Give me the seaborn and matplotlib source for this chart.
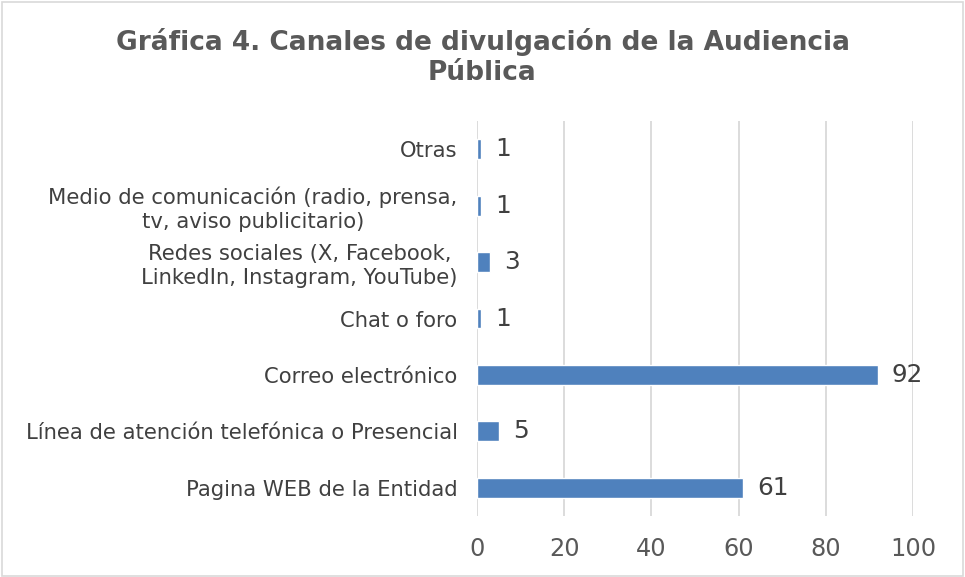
import matplotlib
matplotlib.use("Agg")
import matplotlib.pyplot as plt
import seaborn as sns
import pandas as pd

categories = [
    "Otras",
    "Medio de comunicación (radio, prensa,\ntv, aviso publicitario)",
    "Redes sociales (X, Facebook,\nLinkedIn, Instagram, YouTube)",
    "Chat o foro",
    "Correo electrónico",
    "Línea de atención telefónica o Presencial",
    "Pagina WEB de la Entidad",
]
values = [1, 1, 3, 1, 92, 5, 61]
xticks = [0, 20, 40, 60, 80, 100]
title = "Gráfica 4. Canales de divulgación de la Audiencia\nPública"

df = pd.DataFrame({"canal": categories, "valor": values})

sns.set_theme(style="white")
plt.rcParams["font.family"] = ["DejaVu Sans"]

fig = plt.figure(figsize=(9.65, 5.77), dpi=100)
ax = fig.add_axes([0.4943, 0.1057, 0.4518, 0.6846])

sns.barplot(data=df, x="valor", y="canal", orient="h", color="#4F81BD",
            saturation=1, width=0.35, ax=ax, order=categories)

ax.set_xlim(0, 100)
ax.set_xticks(xticks)
ax.set_xticklabels([str(t) for t in xticks])
ax.grid(axis="x", color="#D9D9D9", linewidth=1.3)
ax.set_axisbelow(True)
for s in ax.spines.values():
    s.set_visible(False)
ax.set_xlabel("")
ax.set_ylabel("")
ax.tick_params(axis="x", length=0, pad=15, labelsize=17.3, labelcolor="#595959")
ax.tick_params(axis="y", length=0, pad=14, labelsize=15.2, labelcolor="#404040")
for lab in ax.get_yticklabels():
    lab.set_multialignment("center")
    lab.set_linespacing(1.25)

for i, v in enumerate(values):
    ax.annotate(str(v), xy=(v, i), xytext=(10, 0), textcoords="offset points",
                ha="left", va="center", fontsize=17.8, color="#404040")

fig.text(0.5, 0.902, title, ha="center", va="center", fontsize=19,
         fontweight="bold", color="#595959", linespacing=1.2)

border = plt.Rectangle((0.002, 0.002), 0.996, 0.994, transform=fig.transFigure,
                       fill=False, edgecolor="#D9D9D9", linewidth=1.2)
fig.patches.append(border)

fig.savefig("out.png", dpi=100, facecolor="white")
